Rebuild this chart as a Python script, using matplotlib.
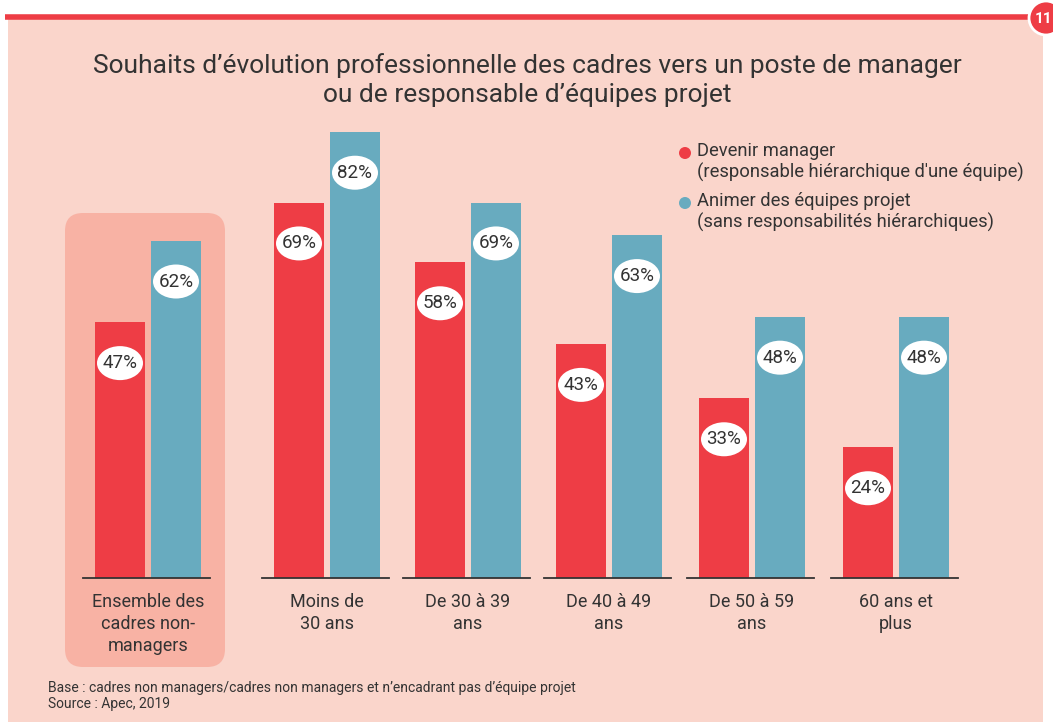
import matplotlib
matplotlib.use("Agg")
import matplotlib.pyplot as plt
from matplotlib.patches import FancyBboxPatch, Ellipse, Circle, Rectangle

# data
categories = ["Ensemble des\ncadres non-\nmanagers", "Moins de\n30 ans", "De 30 à 39\nans",
              "De 40 à 49\nans", "De 50 à 59\nans", "60 ans et\nplus"]
manager = [47, 69, 58, 43, 33, 24]
projet = [62, 82, 69, 63, 48, 48]
series_names = ["Devenir manager\n(responsable hiérarchique d'une équipe)",
                "Animer des équipes projet\n(sans responsabilités hiérarchiques)"]
title = "Souhaits d’évolution professionnelle des cadres vers un poste de manager\nou de responsable d’équipes projet"
footnote = "Base : cadres non managers/cadres non managers et n’encadrant pas d’équipe projet\nSource : Apec, 2019"

RED = "#EE3D45"
BLUE = "#68ABBF"
BG = "#FAD5CB"
HL = "#F8B2A4"
TXT = "#333333"

plt.rcParams["font.family"] = ["Roboto", "DejaVu Sans"]

W, H = 1053, 722
fig = plt.figure(figsize=(W / 100, H / 100), dpi=100)

# background layer in pixel coords
bg = fig.add_axes([0, 0, 1, 1])
bg.set_xlim(0, W)
bg.set_ylim(H, 0)
bg.axis("off")
bg.add_patch(Rectangle((8, 17), 1035, H - 17, color=BG, lw=0))
bg.plot([5, 1035], [17, 17], color=RED, lw=4, solid_capstyle="butt")
bg.add_patch(Circle((1046, 18), 17, facecolor=RED, edgecolor="white", lw=2, zorder=3))
bg.text(1043, 19, "11", color="white", fontsize=11, fontweight="bold", ha="center", va="center", zorder=4)
bg.add_patch(FancyBboxPatch((80, 228), 130, 424, boxstyle="round,pad=15,rounding_size=18",
                            facecolor=HL, edgecolor="none"))

bg.text(527, 80, title, ha="center", va="center", fontsize=19, color=TXT, linespacing=1.25)
bg.text(48, 696, footnote, ha="left", va="center", fontsize=10, color=TXT, linespacing=1.15)

# legend
for i, (c, name) in enumerate(zip([RED, BLUE], series_names)):
    y = 152 + i * 50
    bg.add_patch(Circle((685, y + 1), 6, color=c, lw=0))
    bg.text(697, y + 10, name, ha="left", va="center", fontsize=13.2, color=TXT, linespacing=1.15)

# bar layer: x in pixels, y in percent
ax = fig.add_axes([0, 0, 1, 1], facecolor="none")
base_px = 578
px_per = 5.44
ax.set_xlim(0, W)
ax.set_ylim(-(H - base_px) / px_per, base_px / px_per)
ax.axis("off")

centers = [148, 327, 468, 609, 752, 896]
bw = 50
off = 28
ax.bar([c - off for c in centers], manager, width=bw, color=RED, zorder=2)
ax.bar([c + off for c in centers], projet, width=bw, color=BLUE, zorder=2)

for c, m, p, cat in zip(centers, manager, projet, categories):
    ax.plot([c - 65, c + 62], [0, 0], color=TXT, lw=1.3, zorder=3)
    for x, v in ((c - off, m), (c + off, p)):
        ax.add_patch(Ellipse((x, v - 7.5), 46, 34 / px_per, facecolor="white", edgecolor="none", zorder=4))
        ax.text(x, v - 7.5, f"{v}%", ha="center", va="center", fontsize=13.5, color=TXT, zorder=5)
    ax.text(c, -2.7, cat, ha="center", va="top", fontsize=13, color=TXT, linespacing=1.3)

fig.savefig("out.png", dpi=100)
